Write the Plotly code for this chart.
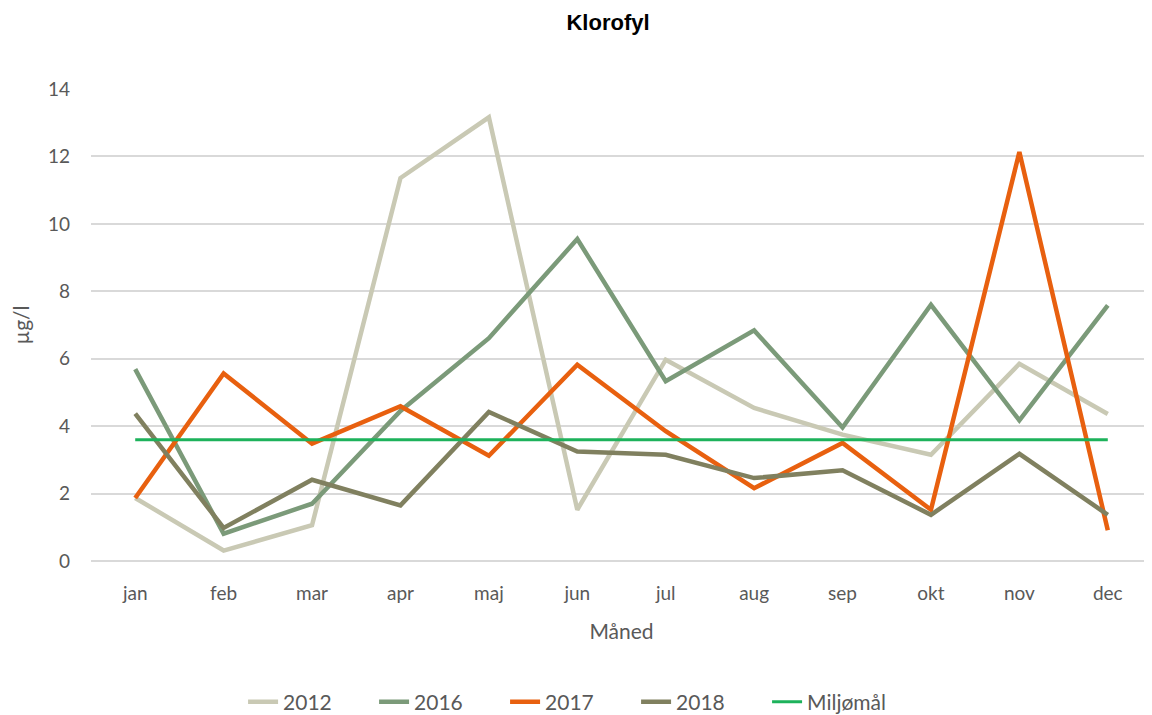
import plotly.graph_objects as go

months = ["jan", "feb", "mar", "apr", "maj", "jun", "jul", "aug", "sep", "okt", "nov", "dec"]
y2012 = [1.87, 0.31, 1.06, 11.36, 13.16, 1.52, 5.97, 4.54, 3.75, 3.15, 5.85, 4.36]
y2016 = [5.69, 0.81, 1.70, 4.45, 6.61, 9.55, 5.33, 6.84, 3.96, 7.60, 4.17, 7.58]
y2017 = [1.87, 5.56, 3.48, 4.59, 3.12, 5.82, 3.85, 2.16, 3.50, 1.52, 12.13, 0.91]
y2018 = [4.37, 0.98, 2.41, 1.65, 4.42, 3.25, 3.15, 2.46, 2.69, 1.37, 3.18, 1.37]
miljomal = [3.6, 3.6, 3.6, 3.6, 3.6, 3.6, 3.6, 3.6, 3.6, 3.6, 3.6, 3.6]

series = [
    ("2012", y2012, "#C9C9B4", 4.5),
    ("2016", y2016, "#7B9A79", 4.5),
    ("2017", y2017, "#E8600F", 4.5),
    ("2018", y2018, "#80805F", 4.5),
    ("Miljømål", miljomal, "#1DB25B", 3),
]

fig = go.Figure()
for name, vals, color, w in series:
    fig.add_trace(go.Scatter(x=months, y=vals, name=name, mode="lines",
                             line=dict(color=color, width=w)))

# page body has an 8px margin; figure size compensates
W, H = 1144, 707
font_fam = "Lato, 'Open Sans', sans-serif"
fig.update_layout(
    width=W, height=H,
    paper_bgcolor="white", plot_bgcolor="white",
    margin=dict(l=83, r=0, t=81, b=154, autoexpand=False),
    title=dict(text="<b>Klorofyl</b>", x=(608 - 8) / W, xanchor="center",
               yref="container", y=1 - 14 / H, yanchor="middle",
               font=dict(family="Liberation Sans, Arial, sans-serif", size=22, color="black")),
    font=dict(family=font_fam, color="#595959"),
    showlegend=True,
    legend=dict(orientation="h", x=0.452, xanchor="center",
                yref="container", y=13 / H, yanchor="middle",
                entrywidth=86, entrywidthmode="pixels",
                font=dict(size=21, color="#595959"), traceorder="normal"),
    xaxis=dict(type="category", categoryorder="array", categoryarray=months,
               range=[-0.5, 11.5], automargin=False,
               showgrid=False, zeroline=False, showline=False,
               tickfont=dict(size=19, color="#595959"), ticks="", ticklabelstandoff=19,
               title=dict(text="Måned", font=dict(size=21, color="#595959"), standoff=21)),
    yaxis=dict(range=[0, 14], dtick=2, showgrid=True, gridcolor="#D9D9D9", gridwidth=1.5,
               automargin=False,
               zeroline=True, zerolinecolor="#D9D9D9", zerolinewidth=1.5, showline=False,
               tickfont=dict(size=19, color="#595959"), ticks="", ticklabelstandoff=20,
               title=dict(text="µg/l", font=dict(size=21, color="#595959"), standoff=14)),
)

fig.write_html("out.html")
